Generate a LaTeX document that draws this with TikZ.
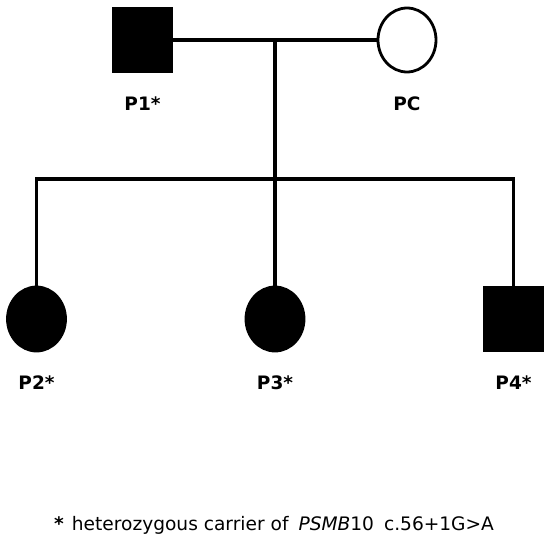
\documentclass[tikz,border=0pt]{standalone}
\usepackage{fontspec}
\setmainfont{DejaVu Sans}
\usetikzlibrary{shapes.geometric}
\tikzset{
  line/.style={line width=3.2pt},
  male/.style={draw, line width=2.5pt, fill=black, minimum width=58pt, minimum height=63pt, inner sep=0pt},
  female/.style={ellipse, draw, line width=2.8pt, minimum width=58pt, minimum height=64pt, inner sep=0pt},
  plabel/.style={font=\bfseries\fontsize{18.5}{18.5}\selectfont}
}
% #1 style, #2 name, #3 x, #4 y, #5 label
\newcommand{\person}[5]{
  \node [#1] (#2) at (#3,#4) {};
  \node [plabel] (#2l) at (#3,#4+64) {#5};
}

\begin{document}
\begin{tikzpicture}[x=1pt, y=-1pt]
  \useasboundingbox (0,0) rectangle (550,546);
  % parents
  \person{male}{p1}{142.5}{40}{P1*}
  \person{female}{pc}{407}{40}{PC}
  % children
  \person{female, fill=black}{p2}{36.5}{319}{P2*}
  \person{female, fill=black}{p3}{275}{319}{P3*}
  \person{male}{p4}{513.5}{319}{P4*}
  % lines
  \coordinate (mate) at (275,40);
  \coordinate (sib) at (275,179);
  \draw [line] (p1.east) -- (pc.west);
  \draw [line] (mate) -- (sib);
  \draw [line] (p2.north) |- (sib) -| (p4.north);
  \draw [line] (sib) -- (p3.north);
  % note
  \node [font=\fontsize{18.6}{18.6}\selectfont, anchor=west, inner sep=0pt] (note) at (54,525)
    {\textbf{*}\hspace{8pt}heterozygous carrier of\hspace{10pt}\textit{PSMB}10\hspace{10pt}c.56+1G>A};
\end{tikzpicture}
\end{document}
